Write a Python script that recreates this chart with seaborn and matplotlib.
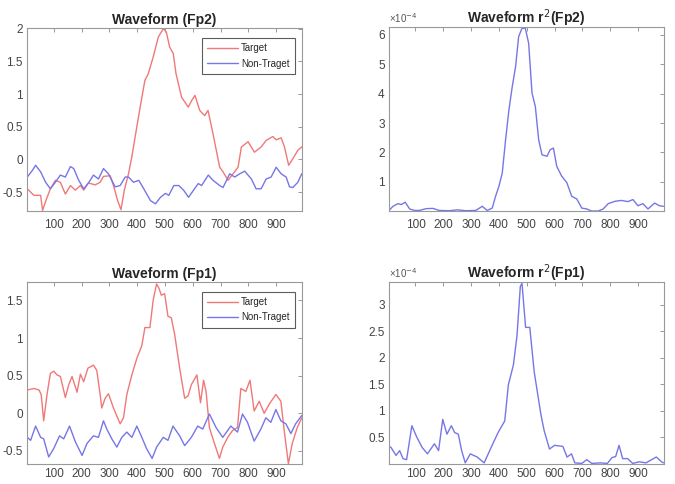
import numpy as np
import matplotlib
matplotlib.use("Agg")
import matplotlib.pyplot as plt
from matplotlib.ticker import FuncFormatter
import seaborn as sns

# Fp2 waveform (time in ms, amplitude)
t_fp2_tar = [5, 29, 53, 60, 72, 88, 106, 124, 142, 160, 178, 196, 208, 225, 249, 267, 279, 303, 315,
             330, 342, 354, 369, 381, 399, 411, 428, 440, 458, 476, 494, 505, 517, 530, 540, 560, 584,
             596, 608, 625, 643, 655, 673, 697, 709, 727, 745, 763, 775, 799, 822, 846, 864, 888, 900,
             918, 930, 945, 960, 978, 992]
fp2_target = [-0.45, -0.55, -0.55, -0.78, -0.63, -0.45, -0.32, -0.35, -0.53, -0.40, -0.47, -0.40, -0.47,
              -0.36, -0.39, -0.35, -0.26, -0.25, -0.40, -0.63, -0.77, -0.47, -0.22, 0.04, 0.50, 0.80,
              1.21, 1.31, 1.57, 1.87, 2.00, 1.95, 1.72, 1.62, 1.31, 0.95, 0.80, 0.90, 0.98, 0.75, 0.67,
              0.75, 0.39, -0.12, -0.19, -0.32, -0.22, -0.12, 0.19, 0.27, 0.11, 0.19, 0.29, 0.35, 0.30,
              0.33, 0.19, -0.09, 0.01, 0.14, 0.19]
t_fp2_non = [5, 23, 35, 53, 71, 88, 106, 124, 142, 160, 172, 190, 208, 225, 243, 261, 279, 297, 321,
             339, 357, 369, 387, 406, 424, 448, 466, 484, 502, 514, 532, 550, 567, 585, 603, 620, 632,
             656, 673, 697, 709, 733, 751, 769, 787, 811, 828, 846, 864, 882, 900, 918, 936, 948, 960,
             978, 992]
fp2_nontarget = [-0.27, -0.17, -0.09, -0.19, -0.35, -0.45, -0.35, -0.24, -0.27, -0.11, -0.14, -0.32,
                 -0.45, -0.36, -0.24, -0.30, -0.14, -0.22, -0.42, -0.40, -0.27, -0.27, -0.35, -0.32,
                 -0.45, -0.63, -0.68, -0.58, -0.52, -0.55, -0.40, -0.40, -0.47, -0.58, -0.47, -0.37,
                 -0.40, -0.24, -0.32, -0.40, -0.43, -0.22, -0.27, -0.22, -0.18, -0.30, -0.45, -0.45,
                 -0.30, -0.27, -0.12, -0.22, -0.27, -0.42, -0.43, -0.35, -0.22]

# Fp2 r^2 (x 1e-4)
t_fp2_r2 = [5, 19, 37, 49, 63, 79, 96, 114, 138, 162, 186, 221, 251, 281, 317, 340, 358, 376, 388,
            400, 412, 424, 436, 448, 460, 471, 483, 495, 507, 519, 531, 543, 555, 573, 584, 596, 608,
            626, 644, 662, 680, 698, 716, 733, 757, 775, 793, 817, 840, 864, 882, 900, 918, 936, 960,
            977, 992]
fp2_r2 = [0.03, 0.17, 0.26, 0.23, 0.31, 0.08, 0.03, 0.03, 0.09, 0.10, 0.03, 0.02, 0.05, 0.02, 0.03,
          0.17, 0.03, 0.11, 0.51, 0.85, 1.30, 2.43, 3.45, 4.24, 4.92, 5.94, 6.22, 6.22, 5.71, 4.02,
          3.56, 2.43, 1.92, 1.87, 2.09, 2.15, 1.53, 1.19, 0.98, 0.51, 0.42, 0.11, 0.08, 0.01, 0.01,
          0.08, 0.26, 0.34, 0.37, 0.33, 0.40, 0.19, 0.26, 0.08, 0.28, 0.19, 0.17]

# Fp1 waveform
t_fp1_tar = [5, 29, 47, 55, 64, 76, 88, 100, 112, 124, 142, 154, 166, 184, 196, 208, 223, 243, 255,
             267, 273, 285, 297, 315, 339, 351, 363, 381, 399, 417, 428, 446, 458, 470, 479, 487, 499,
             511, 523, 535, 553, 571, 583, 595, 615, 628, 639, 648, 660, 678, 696, 708, 726, 743, 761,
             773, 791, 806, 821, 839, 857, 875, 899, 917, 929, 944, 958, 976, 992]
fp1_target = [0.31, 0.33, 0.31, 0.25, -0.10, 0.25, 0.53, 0.56, 0.51, 0.49, 0.21, 0.38, 0.49, 0.28,
              0.52, 0.42, 0.60, 0.64, 0.57, 0.25, 0.07, 0.20, 0.26, 0.07, -0.14, -0.06, 0.25, 0.51,
              0.73, 0.90, 1.14, 1.14, 1.51, 1.72, 1.66, 1.57, 1.59, 1.29, 1.27, 1.05, 0.60, 0.20,
              0.23, 0.38, 0.51, 0.14, 0.44, 0.29, -0.19, -0.40, -0.60, -0.45, -0.32, -0.23, -0.19,
              0.33, 0.29, 0.44, 0.03, 0.16, 0.00, 0.12, 0.25, 0.16, -0.23, -0.67, -0.40, -0.19, -0.06]
t_fp1_non = [5, 17, 35, 53, 64, 82, 100, 121, 136, 157, 178, 202, 220, 243, 261, 279, 291, 309, 327,
             345, 363, 381, 399, 417, 434, 454, 470, 494, 511, 529, 553, 571, 595, 618, 636, 660, 684,
             708, 737, 761, 779, 797, 821, 845, 863, 881, 899, 917, 935, 953, 970, 992]
fp1_nontarget = [-0.32, -0.36, -0.17, -0.32, -0.34, -0.58, -0.47, -0.30, -0.34, -0.17, -0.38, -0.56,
                 -0.40, -0.30, -0.32, -0.10, -0.21, -0.34, -0.45, -0.32, -0.25, -0.32, -0.17, -0.32,
                 -0.47, -0.60, -0.45, -0.32, -0.36, -0.17, -0.30, -0.43, -0.32, -0.17, -0.21, -0.01,
                 -0.19, -0.32, -0.17, -0.25, -0.01, -0.12, -0.37, -0.21, -0.06, -0.12, 0.05, -0.10,
                 -0.14, -0.27, -0.14, -0.03]

# Fp1 r^2 (x 1e-4)
t_fp1_r2 = [5, 12, 30, 43, 55, 68, 87, 105, 124, 143, 168, 183, 198, 213, 229, 241, 254, 266, 279,
            297, 322, 347, 372, 397, 421, 434, 452, 465, 477, 483, 496, 511, 527, 551, 563, 582, 600,
            630, 645, 661, 673, 698, 716, 734, 765, 790, 807, 820, 832, 845, 863, 881, 905, 929, 966,
            985, 992]
fp1_r2 = [0.33, 0.31, 0.16, 0.25, 0.10, 0.08, 0.72, 0.50, 0.31, 0.19, 0.38, 0.25, 0.84, 0.56, 0.72,
          0.59, 0.56, 0.25, 0.02, 0.19, 0.13, 0.02, 0.31, 0.59, 0.81, 1.49, 1.86, 2.41, 3.34, 3.40,
          2.57, 2.57, 1.73, 0.93, 0.62, 0.28, 0.35, 0.33, 0.13, 0.19, 0.02, 0.01, 0.08, 0.01, 0.02,
          0.01, 0.12, 0.14, 0.35, 0.10, 0.10, 0.01, 0.04, 0.02, 0.13, 0.04, 0.02]

xticks = [100, 200, 300, 400, 500, 600, 700, 800, 900]

red = "#f07878"
blue = "#7676e6"

sns.set_style("white")
plt.rcParams['font.family'] = ['Liberation Sans Narrow', 'Liberation Sans', 'DejaVu Sans']

fig = plt.figure(figsize=(6.75, 4.84), dpi=100)
ax_tl = fig.add_axes([0.040, 0.564, 0.407, 0.378])
ax_tr = fig.add_axes([0.576, 0.564, 0.407, 0.380])
ax_bl = fig.add_axes([0.040, 0.042, 0.407, 0.376])
ax_br = fig.add_axes([0.576, 0.042, 0.407, 0.376])

fmt = FuncFormatter(lambda v, p: "%g" % v)


def style(ax, ylim, yticks, title, xpad):
    ax.set_xlim(4, 992)
    ax.set_ylim(*ylim)
    ax.set_xticks(xticks)
    ax.set_yticks(yticks)
    ax.yaxis.set_major_formatter(fmt)
    ax.tick_params(direction="in", top=True, right=True, length=3, width=0.6,
                   colors="#888888", labelcolor="#444444", labelsize=8.5)
    ax.tick_params(axis="x", pad=xpad)
    ax.tick_params(axis="y", pad=3)
    for s in ax.spines.values():
        s.set_color("#999999")
        s.set_linewidth(0.8)
    ax.set_xlabel("")
    ax.set_ylabel("")
    ax.set_title(title, fontsize=10, fontweight="bold", pad=3,
                 family=['Liberation Sans', 'DejaVu Sans'])


sns.lineplot(x=t_fp2_tar, y=fp2_target, ax=ax_tl, color=red, lw=1, label="Target")
sns.lineplot(x=t_fp2_non, y=fp2_nontarget, ax=ax_tl, color=blue, lw=1, label="Non-Traget")
style(ax_tl, (-0.79, 2.01), [-0.5, 0, 0.5, 1, 1.5, 2], "Waveform (Fp2)", 6)

sns.lineplot(x=t_fp2_r2, y=fp2_r2, ax=ax_tr, color=blue, lw=1)
style(ax_tr, (0.01, 6.26), [1, 2, 3, 4, 5, 6], "Waveform r$^2$(Fp2)", 6)

sns.lineplot(x=t_fp1_tar, y=fp1_target, ax=ax_bl, color=red, lw=1, label="Target")
sns.lineplot(x=t_fp1_non, y=fp1_nontarget, ax=ax_bl, color=blue, lw=1, label="Non-Traget")
style(ax_bl, (-0.67, 1.75), [-0.5, 0, 0.5, 1, 1.5], "Waveform (Fp1)", 3)

sns.lineplot(x=t_fp1_r2, y=fp1_r2, ax=ax_br, color=blue, lw=1)
style(ax_br, (0.005, 3.43), [0.5, 1, 1.5, 2, 2.5, 3], "Waveform r$^2$(Fp1)", 3)

for ax in (ax_tl, ax_bl):
    leg = ax.legend(loc="upper right", bbox_to_anchor=(0.975, 0.945), borderaxespad=0,
                    fontsize=7, frameon=True, fancybox=False, handlelength=3.2,
                    handletextpad=0.3, borderpad=0.55, labelspacing=0.55)
    leg.get_frame().set_edgecolor("#333333")
    leg.get_frame().set_linewidth(0.8)

for ax in (ax_tr, ax_br):
    ax.text(0.0, 1.01, "×10$^{-4}$", transform=ax.transAxes, fontsize=7, color="#555555",
            ha="left", va="bottom")

fig.savefig("out.png", dpi=100)
